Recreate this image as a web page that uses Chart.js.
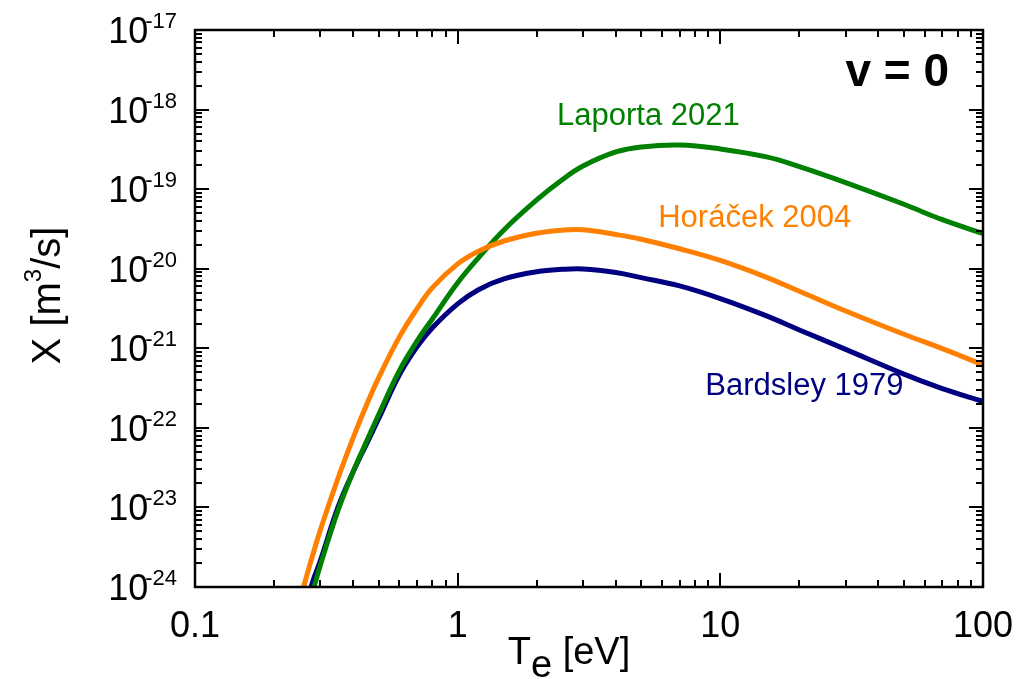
<!DOCTYPE html>
<html>
<head>
<meta charset="utf-8">
<script src="https://cdn.jsdelivr.net/npm/chart.js@4.4.1/dist/chart.umd.min.js"></script>
<style>
  html, body { margin: 0; padding: 0; background: #fff; }
  #wrap { width: 1032px; height: 679px; position: relative; }
</style>
</head>
<body>
<div id="wrap"><canvas id="c"></canvas></div>
<script>
// electron temperature grid [eV]
const te = [0.25, 0.27, 0.28, 0.3, 0.35, 0.4, 0.45, 0.5, 0.6, 0.7, 0.8, 1, 1.2, 1.5, 2, 2.5, 3, 4, 5, 7, 10, 15, 20, 30, 50, 70, 100];

// rate coefficients [m^3/s]
const horacek = [6.6e-25, 1.63e-24, 2.45e-24, 5.2e-24, 2.31e-23, 7.5e-23, 1.95e-22, 4.25e-22, 1.39e-21, 3.13e-21, 5.74e-21, 1.15e-20, 1.66e-20, 2.23e-20, 2.79e-20, 3.05e-20, 3.08e-20, 2.69e-20, 2.35e-20, 1.78e-20, 1.27e-20, 7.8e-21, 5.2e-21, 2.94e-21, 1.5e-21, 9.9e-22, 6.2e-22];
const laporta = [1.7e-25, 5.3e-25, 8.4e-25, 1.87e-24, 9.1e-24, 2.81e-23, 6.76e-23, 1.46e-22, 5.25e-22, 1.23e-21, 2.32e-21, 6.64e-21, 1.37e-20, 3.07e-20, 7.31e-20, 1.31e-19, 1.95e-19, 2.93e-19, 3.39e-19, 3.59e-19, 3.2e-19, 2.54e-19, 1.92e-19, 1.21e-19, 6.46e-20, 4.13e-20, 2.77e-20];
const bardsley = [2.2e-25, 7.2e-25, 1.14e-24, 2.14e-24, 1.0e-23, 2.8e-23, 6.3e-23, 1.3e-22, 4.63e-22, 1.04e-21, 1.8e-21, 3.62e-21, 5.45e-21, 7.43e-21, 9.14e-21, 9.82e-21, 9.94e-21, 8.97e-21, 7.73e-21, 6.08e-21, 4.21e-21, 2.55e-21, 1.7e-21, 9.7e-22, 4.74e-22, 3.12e-22, 2.15e-22];

const xTicks = [0.1, 1, 10, 100];
const xTickLabels = ['0.1', '1', '10', '100'];
const yTickExps = [-24, -23, -22, -21, -20, -19, -18, -17];

// curve labels: left edge (Te) and baseline (value)
const labels = [
  { text: 'Laporta 2021', color: '#008000', te: 2.39, val: 6.4e-19 },
  { text: 'Horáček 2004', color: '#ff8000', te: 5.8, val: 3.35e-20 },
  { text: 'Bardsley 1979', color: '#000080', te: 8.77, val: 2.6e-22 },
];

const FONT = "'Liberation Sans', Arial, sans-serif";

const toPairs = (ys) => te.map((t, i) => ({ x: t, y: ys[i] }));

// axes frame, inward ticks on all sides, tick labels, titles, curve labels
const decorations = {
  id: 'decorations',
  afterDraw(chart) {
    const { ctx, chartArea: a, scales: { x, y } } = chart;
    ctx.save();
    ctx.strokeStyle = '#000';
    ctx.lineWidth = 2;
    ctx.beginPath();
    for (let d = -1; d <= 2; d++) {
      for (let m = 1; m <= 9; m++) {
        const v = m * Math.pow(10, d);
        if (v > 100.0001) break;
        const px = Math.round(x.getPixelForValue(v));
        const len = m === 1 ? 14 : 7;
        ctx.moveTo(px, a.bottom); ctx.lineTo(px, a.bottom - len);
        ctx.moveTo(px, a.top); ctx.lineTo(px, a.top + len);
      }
    }
    for (let e = -24; e <= -17; e++) {
      for (let m = 1; m <= 9; m++) {
        if (e === -17 && m > 1) break;
        const py = Math.round(y.getPixelForValue(m * Math.pow(10, e)));
        const len = m === 1 ? 14 : 7;
        ctx.moveTo(a.left, py); ctx.lineTo(a.left + len, py);
        ctx.moveTo(a.right, py); ctx.lineTo(a.right - len, py);
      }
    }
    ctx.stroke();
    ctx.lineWidth = 2.5;
    ctx.strokeRect(a.left, a.top, a.right - a.left, a.bottom - a.top);

    ctx.fillStyle = '#000';
    // x tick labels
    ctx.font = `36px ${FONT}`;
    ctx.textAlign = 'center';
    ctx.textBaseline = 'alphabetic';
    xTicks.forEach((v, i) => {
      ctx.fillText(xTickLabels[i], x.getPixelForValue(v), a.bottom + 50);
    });
    // y tick labels 10^n
    const right = a.left - 18;
    yTickExps.forEach((e) => {
      const py = y.getPixelForValue(Math.pow(10, e));
      const sup = String(e);
      ctx.font = `22px ${FONT}`;
      const sw = ctx.measureText(sup).width;
      ctx.textAlign = 'left';
      ctx.fillText(sup, right - sw, py - 2);
      ctx.font = `36px ${FONT}`;
      ctx.textAlign = 'right';
      ctx.fillText('10', right - sw + 3, py + 13);
    });

    // x title: T_e [eV]
    ctx.font = `38px ${FONT}`;
    ctx.textAlign = 'left';
    const wT = ctx.measureText('T').width;
    const wE = ctx.measureText('e').width;
    const wR = ctx.measureText(' [eV]').width;
    const tx = (a.left + a.right) / 2 - 20 - (wT + wE + wR) / 2;
    const ty = a.bottom + 77;
    ctx.fillText('T', tx, ty);
    ctx.fillText('e', tx + wT, ty + 13);
    ctx.fillText(' [eV]', tx + wT + wE, ty);

    // y title: X [m^3/s]
    ctx.save();
    ctx.translate(60, (a.top + a.bottom) / 2 - 13);
    ctx.rotate(-Math.PI / 2);
    ctx.font = `40px ${FONT}`;
    const w1 = ctx.measureText('X [m').width;
    const w3 = ctx.measureText('/s]').width;
    ctx.font = `24px ${FONT}`;
    const w2 = ctx.measureText('3').width;
    const sx = -(w1 + w2 + w3) / 2;
    ctx.font = `40px ${FONT}`;
    ctx.fillText('X [m', sx, 0);
    ctx.font = `24px ${FONT}`;
    ctx.fillText('3', sx + w1, -19);
    ctx.font = `40px ${FONT}`;
    ctx.fillText('/s]', sx + w1 + w2, 0);
    ctx.restore();

    // curve labels
    ctx.font = `31px ${FONT}`;
    ctx.textAlign = 'left';
    labels.forEach((l) => {
      ctx.fillStyle = l.color;
      ctx.fillText(l.text, x.getPixelForValue(l.te), y.getPixelForValue(l.val));
    });

    // panel tag
    ctx.fillStyle = '#000';
    ctx.font = `bold 46px ${FONT}`;
    ctx.textAlign = 'right';
    ctx.fillText('v = 0', a.right - 34, a.top + 56);
    ctx.restore();
  },
};

const line = (label, data, color) => ({
  label,
  data: toPairs(data),
  borderColor: color,
  backgroundColor: color,
  borderWidth: 5,
  pointRadius: 0,
  tension: 0.4,
  fill: false,
  clip: 0,
});

new Chart(document.getElementById('c'), {
  type: 'line',
  data: {
    datasets: [
      line('Horáček 2004', horacek, '#ff8000'),
      line('Laporta 2021', laporta, '#008000'),
      line('Bardsley 1979', bardsley, '#000080'),
    ],
  },
  options: {
    responsive: true,
    maintainAspectRatio: false,
    animation: false,
    layout: { padding: { left: 195, top: 30, right: 49, bottom: 92 } },
    plugins: {
      legend: { display: false },
      tooltip: { enabled: false },
    },
    scales: {
      x: { type: 'logarithmic', min: 0.1, max: 100, display: false },
      y: { type: 'logarithmic', min: 1e-24, max: 1e-17, display: false },
    },
  },
  plugins: [decorations],
});
</script>
</body>
</html>
